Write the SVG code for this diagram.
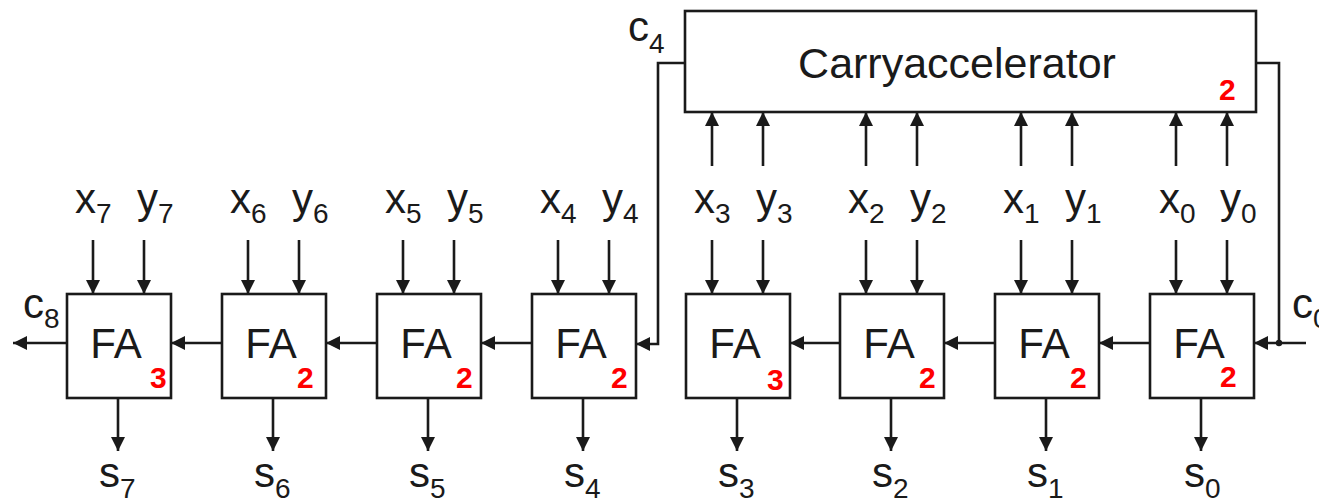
<svg xmlns="http://www.w3.org/2000/svg" width="1319" height="502" viewBox="0 0 1319 502">
<style>
.box{fill:#fff;stroke:#1a1a1a;stroke-width:2.6}
.w{fill:none;stroke:#1a1a1a;stroke-width:2.6}
.a{fill:none;stroke:#1a1a1a;stroke-width:2.6;marker-end:url(#ah)}
.t{font-family:"Liberation Sans",Arial,sans-serif;font-size:42px;fill:#1a1a1a}
.fa{font-family:"Liberation Sans",Arial,sans-serif;font-size:42px;fill:#1a1a1a;text-anchor:middle}
.sub{font-size:28px}
.r{font-family:"Liberation Sans",Arial,sans-serif;font-size:30px;font-weight:bold;fill:#ff0000}
</style>
<defs>
<marker id="ah" markerUnits="userSpaceOnUse" markerWidth="15" markerHeight="14" refX="14" refY="7" orient="auto">
<path d="M0,0 L14,7 L0,14 z" fill="#1a1a1a"/>
</marker>
</defs>
<rect width="1319" height="502" fill="#fff"/>
<g id="connectors">
<line class="a" x1="93" y1="240" x2="93" y2="294"/><line class="a" x1="144" y1="240" x2="144" y2="294"/>
<line class="a" x1="248" y1="240" x2="248" y2="294"/><line class="a" x1="299" y1="240" x2="299" y2="294"/>
<line class="a" x1="403" y1="240" x2="403" y2="294"/><line class="a" x1="454" y1="240" x2="454" y2="294"/>
<line class="a" x1="558" y1="240" x2="558" y2="294"/><line class="a" x1="609" y1="240" x2="609" y2="294"/>
<line class="a" x1="712" y1="240" x2="712" y2="294"/><line class="a" x1="763" y1="240" x2="763" y2="294"/>
<line class="a" x1="866" y1="240" x2="866" y2="294"/><line class="a" x1="917" y1="240" x2="917" y2="294"/>
<line class="a" x1="1021" y1="240" x2="1021" y2="294"/><line class="a" x1="1072" y1="240" x2="1072" y2="294"/>
<line class="a" x1="1176" y1="240" x2="1176" y2="294"/><line class="a" x1="1227" y1="240" x2="1227" y2="294"/>
<line class="a" x1="712" y1="166" x2="712" y2="112"/><line class="a" x1="763" y1="166" x2="763" y2="112"/>
<line class="a" x1="866" y1="166" x2="866" y2="112"/><line class="a" x1="917" y1="166" x2="917" y2="112"/>
<line class="a" x1="1021" y1="166" x2="1021" y2="112"/><line class="a" x1="1072" y1="166" x2="1072" y2="112"/>
<line class="a" x1="1176" y1="166" x2="1176" y2="112"/><line class="a" x1="1227" y1="166" x2="1227" y2="112"/>
<line class="a" x1="118" y1="398" x2="118" y2="451"/>
<line class="a" x1="273" y1="398" x2="273" y2="451"/>
<line class="a" x1="428" y1="398" x2="428" y2="451"/>
<line class="a" x1="583" y1="398" x2="583" y2="451"/>
<line class="a" x1="737" y1="398" x2="737" y2="451"/>
<line class="a" x1="891" y1="398" x2="891" y2="451"/>
<line class="a" x1="1046" y1="398" x2="1046" y2="451"/>
<line class="a" x1="1201" y1="398" x2="1201" y2="451"/>
<line class="a" x1="67" y1="343" x2="13" y2="343"/>
<line class="a" x1="222" y1="343" x2="171" y2="343"/>
<line class="a" x1="377" y1="343" x2="326" y2="343"/>
<line class="a" x1="532" y1="343" x2="481" y2="343"/>
<line class="a" x1="840" y1="343" x2="790" y2="343"/>
<line class="a" x1="995" y1="343" x2="944" y2="343"/>
<line class="a" x1="1150" y1="343" x2="1099" y2="343"/>
<path class="a" d="M685,63 H658 V344 H636"/>
<path class="w" d="M1256,63 H1279 V343"/>
<line class="a" x1="1306" y1="343" x2="1254" y2="343"/>
<circle cx="1279" cy="343" r="3.2" fill="#1a1a1a"/>
</g>
<g id="carry-accelerator">
<rect class="box" x="685" y="11" width="571" height="101"/>
<text class="fa" x="957" y="78" font-size="43" style="font-size:43px">Carryaccelerator</text>
<text class="r" x="1219" y="100">2</text>
</g>
<g id="fa7"><rect class="box" x="67" y="294" width="104" height="104"/><text class="fa" x="116" y="358">FA</text><text class="r" x="150" y="388">3</text></g>
<g id="fa6"><rect class="box" x="222" y="294" width="104" height="104"/><text class="fa" x="271" y="358">FA</text><text class="r" x="297" y="388">2</text></g>
<g id="fa5"><rect class="box" x="377" y="294" width="104" height="104"/><text class="fa" x="426" y="358">FA</text><text class="r" x="456" y="388">2</text></g>
<g id="fa4"><rect class="box" x="532" y="294" width="104" height="104"/><text class="fa" x="581" y="358">FA</text><text class="r" x="611" y="388">2</text></g>
<g id="fa3"><rect class="box" x="686" y="294" width="104" height="104"/><text class="fa" x="735" y="358">FA</text><text class="r" x="767" y="390">3</text></g>
<g id="fa2"><rect class="box" x="840" y="294" width="104" height="104"/><text class="fa" x="889" y="358">FA</text><text class="r" x="919" y="388">2</text></g>
<g id="fa1"><rect class="box" x="995" y="294" width="104" height="104"/><text class="fa" x="1044" y="358">FA</text><text class="r" x="1070" y="388">2</text></g>
<g id="fa0"><rect class="box" x="1150" y="294" width="104" height="104"/><text class="fa" x="1199" y="358">FA</text><text class="r" x="1220" y="387">2</text></g>
<g id="labels">
<text class="t" x="75" y="213">x<tspan class="sub" dy="10">7</tspan></text>
<text class="t" x="137" y="213">y<tspan class="sub" dy="10">7</tspan></text>
<text class="t" x="230" y="213">x<tspan class="sub" dy="10">6</tspan></text>
<text class="t" x="292" y="213">y<tspan class="sub" dy="10">6</tspan></text>
<text class="t" x="385" y="213">x<tspan class="sub" dy="10">5</tspan></text>
<text class="t" x="447" y="213">y<tspan class="sub" dy="10">5</tspan></text>
<text class="t" x="540" y="213">x<tspan class="sub" dy="10">4</tspan></text>
<text class="t" x="602" y="213">y<tspan class="sub" dy="10">4</tspan></text>
<text class="t" x="694" y="213">x<tspan class="sub" dy="10">3</tspan></text>
<text class="t" x="756" y="213">y<tspan class="sub" dy="10">3</tspan></text>
<text class="t" x="848" y="213">x<tspan class="sub" dy="10">2</tspan></text>
<text class="t" x="910" y="213">y<tspan class="sub" dy="10">2</tspan></text>
<text class="t" x="1003" y="213">x<tspan class="sub" dy="10">1</tspan></text>
<text class="t" x="1065" y="213">y<tspan class="sub" dy="10">1</tspan></text>
<text class="t" x="1159" y="213">x<tspan class="sub" dy="10">0</tspan></text>
<text class="t" x="1220" y="213">y<tspan class="sub" dy="10">0</tspan></text>
<text class="t" x="99" y="487">s<tspan class="sub" dy="11">7</tspan></text>
<text class="t" x="254" y="487">s<tspan class="sub" dy="11">6</tspan></text>
<text class="t" x="409" y="487">s<tspan class="sub" dy="11">5</tspan></text>
<text class="t" x="564" y="487">s<tspan class="sub" dy="11">4</tspan></text>
<text class="t" x="718" y="487">s<tspan class="sub" dy="11">3</tspan></text>
<text class="t" x="872" y="487">s<tspan class="sub" dy="11">2</tspan></text>
<text class="t" x="1027" y="487">s<tspan class="sub" dy="11">1</tspan></text>
<text class="t" x="1184" y="487">s<tspan class="sub" dy="11">0</tspan></text>
<text class="t" x="23" y="318">c<tspan class="sub" dy="10">8</tspan></text>
<text class="t" x="628" y="41">c<tspan class="sub" dy="12">4</tspan></text>
<text class="t" x="1292" y="318">c<tspan class="sub" dy="10">0</tspan></text>
</g>
</svg>
